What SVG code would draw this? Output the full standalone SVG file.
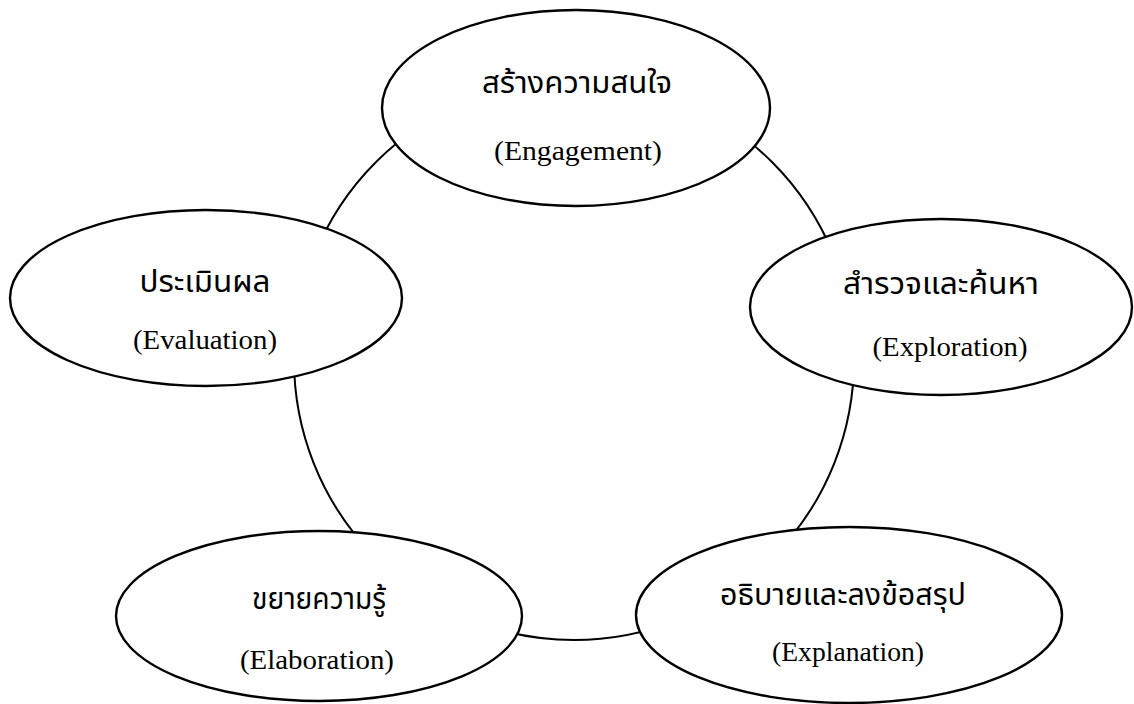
<svg xmlns="http://www.w3.org/2000/svg" width="1134" height="704" viewBox="0 0 1134 704">
<style>
.bg{fill:#ffffff}
.ring{fill:none;stroke:#000;stroke-width:2}
.node{fill:#fff;stroke:#000;stroke-width:2.4}
.th{font-family:"Liberation Serif","Noto Sans Thai","Noto Serif Thai","DejaVu Sans",serif;font-size:31px;fill:#000;text-anchor:middle}
.en{font-family:"Liberation Serif","Times New Roman",serif;font-size:27px;fill:#000;text-anchor:middle}
</style>
<rect class="bg" x="0" y="0" width="1134" height="704"/>
<g id="connectors">
<circle class="ring" cx="574" cy="360" r="280"/>
</g>
<g id="engagement">
<ellipse class="node" cx="576" cy="108" rx="194" ry="98"/>
<text class="th" x="577" y="93" textLength="190" lengthAdjust="spacingAndGlyphs">สร้างความสนใจ</text>
<text class="en" x="578" y="160" textLength="168" lengthAdjust="spacingAndGlyphs">(Engagement)</text>
</g>
<g id="evaluation">
<ellipse class="node" cx="206" cy="298" rx="196" ry="88"/>
<text class="th" x="205" y="292" textLength="131" lengthAdjust="spacingAndGlyphs">ประเมินผล</text>
<text class="en" x="205" y="349" textLength="144" lengthAdjust="spacingAndGlyphs">(Evaluation)</text>
</g>
<g id="exploration">
<ellipse class="node" cx="941" cy="307" rx="191" ry="88"/>
<text class="th" x="941" y="294" textLength="196" lengthAdjust="spacingAndGlyphs">สำรวจและค้นหา</text>
<text class="en" x="950" y="356" textLength="155" lengthAdjust="spacingAndGlyphs">(Exploration)</text>
</g>
<g id="elaboration">
<ellipse class="node" cx="319" cy="616" rx="203" ry="85"/>
<text class="th" x="319" y="609" textLength="134" lengthAdjust="spacingAndGlyphs">ขยายความรู้</text>
<text class="en" x="317" y="669" textLength="154" lengthAdjust="spacingAndGlyphs">(Elaboration)</text>
</g>
<g id="explanation">
<ellipse class="node" cx="849" cy="615" rx="213" ry="88"/>
<text class="th" x="843" y="605" textLength="246" lengthAdjust="spacingAndGlyphs">อธิบายและลงข้อสรุป</text>
<text class="en" x="848" y="661" textLength="152" lengthAdjust="spacingAndGlyphs">(Explanation)</text>
</g>
</svg>
